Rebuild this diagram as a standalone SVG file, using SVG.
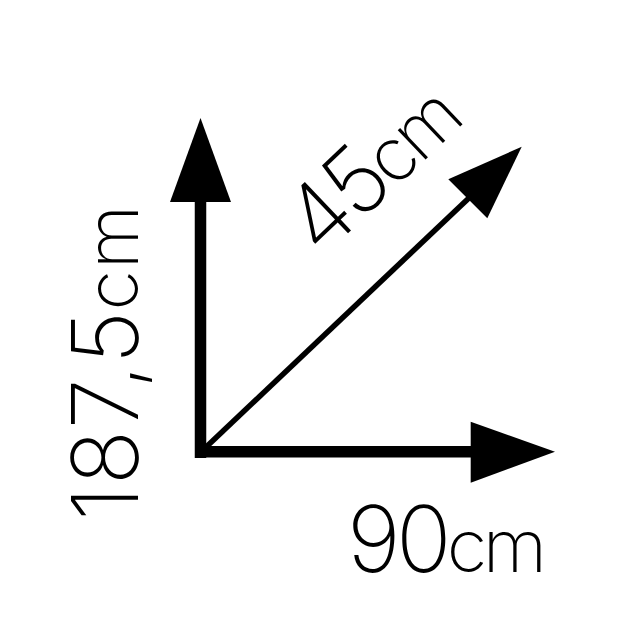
<svg xmlns="http://www.w3.org/2000/svg" width="640" height="640" viewBox="0 0 640 640">
<style>
.lbl{font-family:Inter,"DejaVu Sans","Liberation Sans",sans-serif;font-weight:200;font-size:92px;fill:#000}
.u{font-size:74px}
.shaft{stroke:#000;fill:none;stroke-linecap:butt}
.head{fill:#000;stroke:none}
</style>
<rect width="640" height="640" fill="#fff"/>
<g id="connectors">
<line class="shaft" x1="200.5" y1="458" x2="200.5" y2="200" stroke-width="11.5"/>
<polygon class="head" points="170,202 231,202 200.5,118"/>
<line class="shaft" x1="195" y1="451.7" x2="472" y2="451.7" stroke-width="11.5"/>
<polygon class="head" points="470.7,421.7 470.7,482.7 555,451.7"/>
<line class="shaft" x1="203" y1="450" x2="470" y2="197" stroke-width="5.5"/>
<polygon class="head" points="521.7,146.7 448.3,179.3 487.3,218.3"/>
</g>
<g id="label-height">
<text class="lbl" transform="translate(138,521) rotate(-90)" textLength="316" lengthAdjust="spacing">187,5<tspan class="u">cm</tspan></text>
</g>
<g id="label-depth">
<text class="lbl" transform="translate(321,259) rotate(-43.6)" textLength="202" lengthAdjust="spacing">45<tspan class="u">cm</tspan></text>
</g>
<g id="label-width">
<text class="lbl" x="347" y="572" textLength="200" lengthAdjust="spacing">90<tspan class="u">cm</tspan></text>
</g>
</svg>
